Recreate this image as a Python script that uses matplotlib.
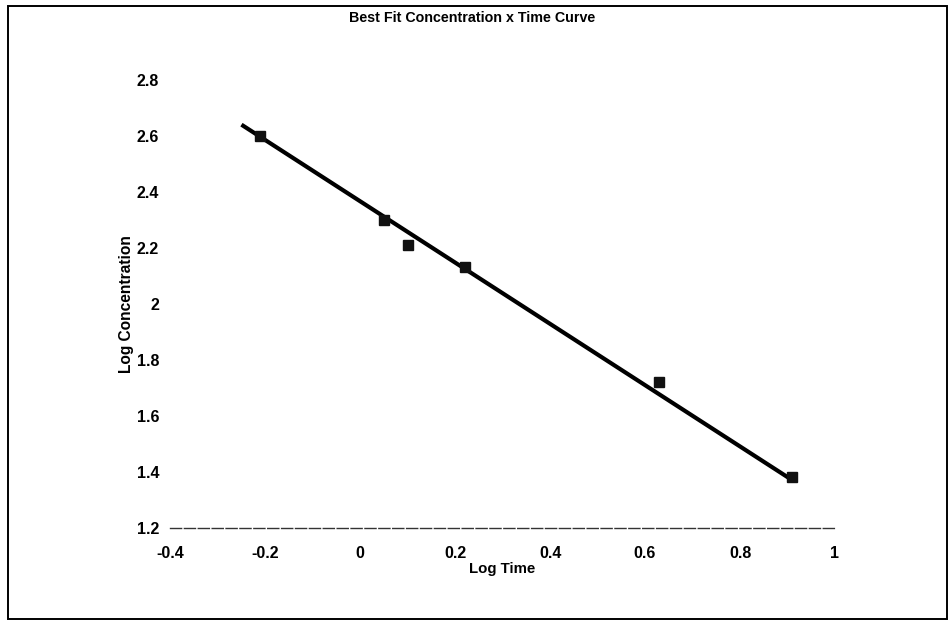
import matplotlib
matplotlib.use("Agg")
import matplotlib.pyplot as plt
from matplotlib.patches import Rectangle

# Data
log_time = [-0.21, 0.05, 0.10, 0.22, 0.63, 0.91]
log_conc = [2.60, 2.30, 2.21, 2.13, 1.72, 1.38]

# best-fit line end points as drawn
fit_x = [-0.25, 0.91]
fit_y = [2.64, 1.37]

x_ticks = [-0.4, -0.2, 0, 0.2, 0.4, 0.6, 0.8, 1]
x_tick_labels = ["-0.4", "-0.2", "0", "0.2", "0.4", "0.6", "0.8", "1"]
y_ticks = [1.2, 1.4, 1.6, 1.8, 2.0, 2.2, 2.4, 2.6, 2.8]
y_tick_labels = ["1.2", "1.4", "1.6", "1.8", "2", "2.2", "2.4", "2.6", "2.8"]


def main():
    plt.rcParams["font.family"] = ["Liberation Sans", "DejaVu Sans"]

    fig = plt.figure(figsize=(9.51, 6.29), dpi=100)
    ax = fig.add_axes([0.179, 0.161, 0.699, 0.712])

    ax.plot(fit_x, fit_y, color="black", linewidth=3.0, solid_capstyle="butt", zorder=2)
    ax.plot(log_time, log_conc, linestyle="none", marker="s", markersize=7.5,
            color="#111111", zorder=3)

    ax.set_xlim(-0.4, 1.0)
    ax.set_ylim(1.2, 2.8)
    ax.set_xticks(x_ticks)
    ax.set_xticklabels(x_tick_labels)
    ax.set_yticks(y_ticks)
    ax.set_yticklabels(y_tick_labels)
    ax.tick_params(axis="both", length=0, labelsize=11.5)
    ax.tick_params(axis="x", pad=13)
    ax.tick_params(axis="y", pad=8)
    for lbl in ax.get_xticklabels() + ax.get_yticklabels():
        lbl.set_fontweight("bold")

    for side in ["top", "right", "left"]:
        ax.spines[side].set_visible(False)
    ax.spines["bottom"].set_color("#333333")
    ax.spines["bottom"].set_linewidth(1.0)
    ax.spines["bottom"].set_linestyle((0, (8, 2)))

    ax.set_xlabel("Log Time", fontsize=10.8, fontweight="bold", labelpad=1)
    ax.set_ylabel("Log Concentration", fontsize=11.2, fontweight="bold", labelpad=2)
    fig.text(0.496, 0.971, "Best Fit Concentration x Time Curve", ha="center", va="center",
             fontsize=10.3, fontweight="bold")

    # outer chart border
    fig.patches.append(Rectangle((8 / 951, 1 - 619 / 629), 939 / 951, 613 / 629,
                                 transform=fig.transFigure, fill=False,
                                 edgecolor="black", linewidth=1.4))

    fig.savefig("out.png", dpi=100)


if __name__ == "__main__":
    main()
